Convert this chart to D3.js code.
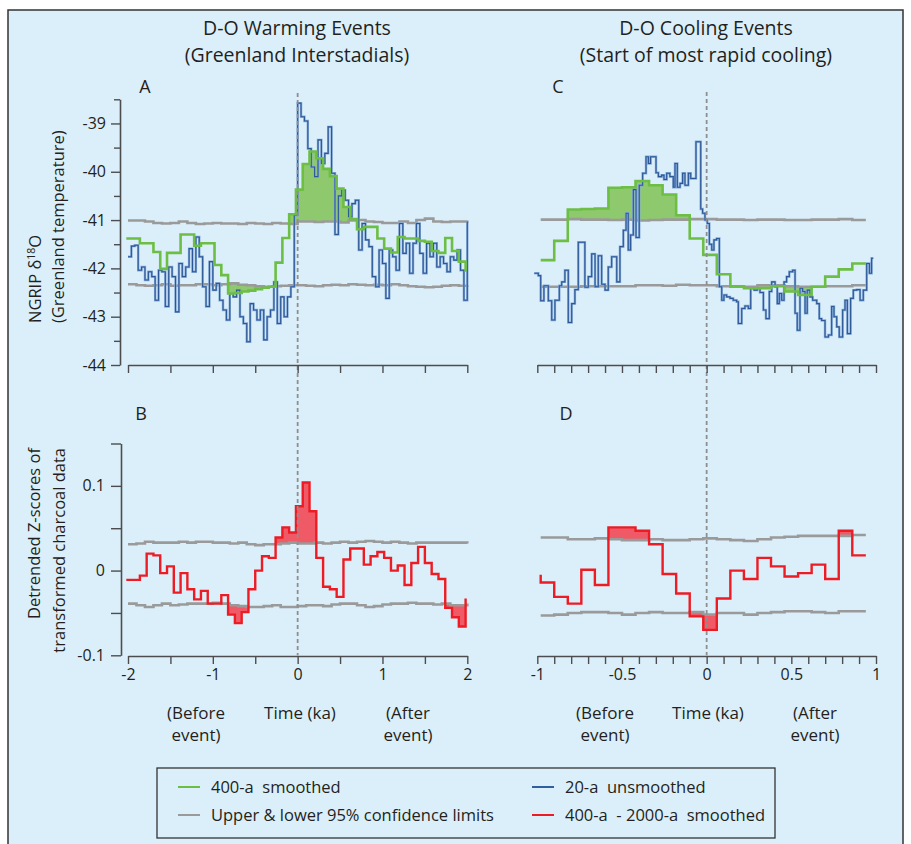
<!DOCTYPE html>
<html><head><meta charset="utf-8">
<script src="https://cdn.jsdelivr.net/npm/d3@7"></script>
<style>
html,body{margin:0;padding:0;background:#fff;}
svg text{font-family:"Open Sans","Noto Sans",sans-serif;fill:#231f20;}
</style></head><body>
<svg id="chart" width="911" height="844"></svg>
<script>
// ---------------- DATA ----------------
// Panel A / C : NGRIP d18O ; Panel B / D : charcoal z-scores
const greenA_start = -2.02, greenA_step = 0.08;
const greenA = [-41.38,-41.38,-41.48,-41.48,-41.66,-42.01,-41.68,-41.68,-41.30,-41.30,
  -41.53,-41.48,-41.48,-41.93,-42.14,-42.52,-42.51,-42.48,-42.46,-42.43,
  -42.40,-42.38,-41.88,-41.37,-40.88,-40.37,-39.84,-39.58,-39.72,-39.94,
  -40.09,-40.35,-40.73,-40.98,-41.19,-41.14,-41.14,-41.38,-41.59,-41.67,
  -41.35,-41.38,-41.38,-41.43,-41.45,-41.64,-41.68,-41.37,-41.64,-41.86];
const greenA_end = -42.07;

const blueA_start = -2.0, blueA_step = 0.04;
const blueA = [-41.76,-41.54,-41.52,-42.04,-41.97,-42.24,-42.07,-42.17,-42.66,-42.04,
  -42.07,-42.79,-41.97,-42.17,-42.90,-41.90,-42.17,-41.97,-41.59,-42.07,
  -41.35,-41.76,-42.38,-42.79,-41.86,-42.45,-42.31,-42.66,-42.86,-43.07,
  -42.52,-42.59,-42.45,-43.00,-43.14,-43.52,-42.73,-42.86,-43.07,-42.86,
  -43.48,-43.00,-42.86,-42.28,-43.14,-42.59,-43.00,-42.59,-42.38,-40.90,
  -38.58,-38.86,-38.95,-39.52,-39.90,-40.10,-39.34,-39.83,-39.62,-39.07,
  -40.03,-41.30,-40.50,-40.38,-40.59,-40.93,-40.66,-40.59,-41.62,-41.07,
  -41.41,-41.55,-42.17,-42.38,-41.62,-41.90,-42.62,-41.62,-41.76,-42.04,
  -41.07,-41.69,-41.48,-42.10,-41.48,-41.07,-41.69,-42.10,-41.48,-41.76,
  -41.48,-41.97,-41.76,-41.90,-42.07,-41.76,-41.83,-41.62,-42.04,-42.66];
const blueA_end = -41.03;

const greyAB_start = -2.0, greyAB_step = 0.1;
const greyA_upper = [-41.01,-41.01,-41.03,-41.06,-41.07,-41.06,-41.03,-41.06,-41.08,-41.07,
  -41.06,-41.07,-41.07,-41.08,-41.06,-41.07,-41.08,-41.06,-41.07,-41.08,
  -41.03,-41.03,-41.04,-41.03,-41.03,-41.05,-41.01,-41.00,-41.03,-41.04,
  -41.06,-41.06,-41.03,-41.06,-41.00,-40.97,-41.03,-41.04,-41.03,-41.03,-41.01];
const greyA_lower = [-42.33,-42.35,-42.36,-42.35,-42.33,-42.36,-42.35,-42.35,-42.33,-42.33,
  -42.35,-42.33,-42.31,-42.34,-42.35,-42.37,-42.38,-42.37,-42.36,-42.35,
  -42.35,-42.36,-42.37,-42.35,-42.34,-42.35,-42.33,-42.34,-42.35,-42.34,
  -42.35,-42.33,-42.35,-42.37,-42.38,-42.39,-42.38,-42.36,-42.35,-42.36,-42.35];

const redB_start = -2.02, redB_step = 0.08;
const redB = [-0.011,-0.011,-0.006,0.020,0.018,-0.003,0.005,-0.026,-0.003,-0.022,
  -0.034,-0.024,-0.039,-0.039,-0.029,-0.052,-0.062,-0.049,-0.022,0.0,
  0.017,0.015,0.039,0.051,0.045,0.076,0.104,0.070,0.015,-0.019,
  -0.022,-0.031,0.013,0.026,0.026,0.007,0.017,0.022,0.015,0.0,
  0.006,-0.017,0.009,0.028,0.009,-0.004,-0.010,-0.044,-0.055,-0.066];
const redB_end = -0.033;
const greyB_upper = [0.031,0.032,0.034,0.033,0.033,0.033,0.034,0.033,0.034,0.034,
  0.033,0.033,0.032,0.033,0.031,0.030,0.031,0.031,0.032,0.033,
  0.032,0.032,0.033,0.032,0.033,0.034,0.033,0.034,0.035,0.034,
  0.033,0.034,0.033,0.032,0.033,0.033,0.033,0.033,0.033,0.033,0.032];
const greyB_lower = [-0.039,-0.041,-0.043,-0.041,-0.039,-0.041,-0.040,-0.039,-0.039,-0.039,
  -0.038,-0.039,-0.041,-0.042,-0.043,-0.043,-0.042,-0.041,-0.043,-0.043,
  -0.042,-0.041,-0.041,-0.042,-0.040,-0.039,-0.039,-0.041,-0.043,-0.042,
  -0.040,-0.039,-0.039,-0.038,-0.039,-0.039,-0.040,-0.039,-0.041,-0.041,-0.039];

const CD_start = -0.98, CD_step = 0.08;
const greenC = [-41.83,-41.43,-40.78,-40.77,-40.76,-40.33,-40.32,-40.19,-40.28,-40.47,
  -40.90,-41.38,-41.72,-42.12,-42.37,-42.41,-42.41,-42.37,-42.48,-42.55,
  -42.38,-42.17,-42.02,-41.90];
const greyC_upper = [-40.99,-40.99,-40.98,-40.99,-40.99,-41.00,-40.99,-41.01,-41.00,-40.99,
  -40.99,-40.98,-40.98,-40.99,-40.99,-41.00,-40.99,-40.99,-41.00,-41.00,
  -40.99,-40.99,-40.98,-41.00,-41.00];
const greyC_lower = [-42.38,-42.38,-42.38,-42.37,-42.37,-42.37,-42.37,-42.35,-42.35,-42.36,
  -42.34,-42.35,-42.35,-42.37,-42.38,-42.38,-42.35,-42.35,-42.37,-42.38,
  -42.38,-42.37,-42.37,-42.35,-42.35];
const blueC_time = [-1.018,-0.994,-0.980,-0.961,-0.935,-0.915,-0.896,-0.870,-0.856,-0.837,
  -0.817,-0.797,-0.778,-0.758,-0.719,-0.699,-0.679,-0.659,-0.640,-0.620,
  -0.600,-0.581,-0.561,-0.531,-0.512,-0.492,-0.476,-0.463,-0.449,-0.433,
  -0.417,-0.398,-0.378,-0.358,-0.344,-0.331,-0.315,-0.299,-0.285,-0.266,
  -0.252,-0.236,-0.217,-0.197,-0.187,-0.173,-0.157,-0.142,-0.128,-0.108,
  -0.094,-0.063,-0.035,-0.024,-0.010,0.004,0.016,0.030,0.043,0.059,
  0.075,0.089,0.102,0.118,0.138,0.157,0.177,0.187,0.207,0.226,
  0.246,0.260,0.280,0.299,0.315,0.335,0.350,0.370,0.384,0.404,
  0.417,0.429,0.443,0.457,0.472,0.488,0.508,0.522,0.535,0.551,
  0.567,0.581,0.594,0.610,0.626,0.650,0.665,0.679,0.699,0.719,
  0.738,0.752,0.768,0.783,0.803,0.817,0.831,0.850,0.866,0.886,
  0.906,0.925,0.945,0.961,0.974];
const blueC_value = [-42.10,-42.15,-42.67,-42.36,-42.67,-43.07,-42.66,-42.36,-42.28,-42.04,
  -43.12,-42.73,-42.44,-41.46,-42.39,-42.17,-41.70,-42.38,-41.74,-42.33,
  -42.45,-41.97,-41.76,-42.28,-41.55,-41.21,-40.86,-41.62,-41.31,-40.37,
  -41.36,-40.28,-40.03,-39.69,-39.83,-39.69,-39.69,-40.02,-40.10,-40.07,
  -40.16,-40.03,-40.10,-40.32,-39.83,-40.32,-40.24,-40.03,-40.28,-40.03,
  -40.14,-39.38,-40.77,-40.86,-41.00,-41.07,-41.50,-41.62,-41.41,-41.38,
  -42.38,-42.66,-42.55,-42.59,-42.62,-42.66,-42.69,-43.14,-42.83,-42.78,
  -42.83,-42.41,-42.45,-42.41,-42.50,-42.86,-43.04,-42.48,-42.28,-42.38,
  -42.73,-42.52,-42.66,-42.28,-42.17,-42.07,-42.04,-42.93,-43.28,-42.41,
  -42.48,-42.93,-42.45,-42.59,-42.66,-42.73,-43.04,-43.08,-43.42,-43.38,
  -42.79,-43.00,-43.21,-43.42,-42.86,-42.66,-43.35,-42.62,-42.45,-42.44,
  -42.66,-42.45,-41.90,-42.10,-41.79];
const blueC_endTime = 0.984;

const redD_first = -0.005;
const redD = [-0.014,-0.031,-0.039,0.001,-0.017,0.051,0.051,0.047,0.031,-0.004,
  -0.027,-0.054,-0.070,-0.033,0.0,-0.010,0.015,0.005,-0.007,-0.003,
  0.007,-0.010,0.047,0.018];
const greyD_upper = [0.039,0.039,0.037,0.037,0.038,0.037,0.036,0.036,0.037,0.036,
  0.036,0.037,0.038,0.037,0.036,0.035,0.037,0.039,0.040,0.041,
  0.041,0.041,0.041,0.042,0.042];
const greyD_lower = [-0.053,-0.052,-0.050,-0.049,-0.049,-0.050,-0.052,-0.050,-0.049,-0.050,
  -0.050,-0.049,-0.052,-0.050,-0.050,-0.052,-0.050,-0.049,-0.048,-0.048,
  -0.049,-0.050,-0.048,-0.048,-0.048];

const yTicksTop = [-44,-43,-42,-41,-40,-39];
const yTicksBot = [-0.1,0,0.1];
const xLabelsB = [-2,-1,0,1,2];
const xLabelsD = [-1,-0.5,0,0.5,1];
const legendItems = [
  {label:"400-a  smoothed", color:"#6dbe45", col:0, row:0},
  {label:"20-a  unsmoothed", color:"#2f5f9f", col:1, row:0},
  {label:"Upper & lower 95% confidence limits", color:"#9a9a9a", col:0, row:1},
  {label:"400-a  - 2000-a  smoothed", color:"#ed1c24", col:1, row:1}
];

// ---------------- HELPERS ----------------
function uniformSeries(start, step, values, endValue){
  const pts = values.map((v,i)=>[start + i*step, v]);
  pts.push([start + values.length*step, endValue === undefined ? values[values.length-1] : endValue]);
  return pts;
}
function gridSeries(start, step, values){ // last value marks end point
  return values.map((v,i)=>[start + i*step, v]);
}
function timedSeries(times, values, endT){
  const pts = times.map((t,i)=>[t, values[i]]);
  pts.push([endT, values[values.length-1]]);
  return pts;
}
function valueAt(pts, t){
  let lo = 0, hi = pts.length-2;
  if (t < pts[0][0]) return null;
  while (lo < hi){ const mid = (lo+hi+1)>>1; if (pts[mid][0] <= t) lo = mid; else hi = mid-1; }
  return pts[lo][1];
}

const COL = {bg:"#dbeffa", axis:"#4d4d4f", grey:"#9a9a9a", green:"#6dbe45", greenFill:"#8ec96d",
  blue:"#2b5796", blueHalo:"#86aad8", red:"#ed1c24", redFill:"#ef5a66", dash:"#8e8e8e"};

const svg = d3.select("#chart");
svg.append("rect").attr("x",8).attr("y",10).attr("width",895).attr("height",850)
  .attr("fill",COL.bg).attr("stroke","#333").attr("stroke-width",1.5);

// scales
const xA = d3.scaleLinear().domain([-2,2]).range([128,467.3]);
const xC = d3.scaleLinear().domain([-1,1]).range([537.3,876]);
const yTop = d3.scaleLinear().domain([-44,-38.5]).range([365,99.3]);
const yBot = d3.scaleLinear().domain([-0.1,0.15]).range([655.3,443.5]);

function stepLine(g, pts, x, y, color, width){
  return g.append("path").datum(pts)
    .attr("d", d3.line().x(d=>x(d[0])).y(d=>y(d[1])).curve(d3.curveStepAfter))
    .attr("fill","none").attr("stroke",color).attr("stroke-width",width).attr("stroke-linejoin","miter");
}
function blueLine(g, pts, x, y){
  stepLine(g, pts, x, y, COL.blueHalo, 2.4);
  stepLine(g, pts, x, y, COL.blue, 1.1);
}
function exceedArea(g, series, limit, dir, x, y, color){
  const t0 = Math.max(series[0][0], limit[0][0]);
  const t1 = Math.min(series[series.length-1][0], limit[limit.length-1][0]);
  const ts = d3.range(t0, t1, 0.001);
  const data = ts.map(t=>{
    const v = valueAt(series,t), l = valueAt(limit,t);
    return {t, l, v: dir>0 ? Math.max(v,l) : Math.min(v,l)};
  });
  g.append("path").datum(data)
    .attr("d", d3.area().x(d=>x(d.t)).y0(d=>y(d.l)).y1(d=>y(d.v)).curve(d3.curveStepAfter))
    .attr("fill",color).attr("stroke","none");
}

// build series
const sGreenA = uniformSeries(greenA_start, greenA_step, greenA, greenA_end);
const sBlueA = uniformSeries(blueA_start, blueA_step, blueA, blueA_end);
const sGAu = gridSeries(greyAB_start, greyAB_step, greyA_upper);
const sGAl = gridSeries(greyAB_start, greyAB_step, greyA_lower);
const sRedB = uniformSeries(redB_start, redB_step, redB, redB_end);
const sGBu = gridSeries(greyAB_start, greyAB_step, greyB_upper);
const sGBl = gridSeries(greyAB_start, greyAB_step, greyB_lower);
const sGreenC = uniformSeries(CD_start, CD_step, greenC);
const sBlueC = timedSeries(blueC_time, blueC_value, blueC_endTime);
const sGCu = gridSeries(CD_start, CD_step, greyC_upper);
const sGCl = gridSeries(CD_start, CD_step, greyC_lower);
const sRedD = [[CD_start, redD_first]].concat(uniformSeries(CD_start, CD_step, redD));
const sGDu = gridSeries(CD_start, CD_step, greyD_upper);
const sGDl = gridSeries(CD_start, CD_step, greyD_lower);

const plot = svg.append("g");

// Panel A
exceedArea(plot, sGreenA, sGAu, 1, xA, yTop, COL.greenFill);
exceedArea(plot, sGreenA, sGAl, -1, xA, yTop, COL.greenFill);
stepLine(plot, sGAu, xA, yTop, COL.grey, 2.6);
stepLine(plot, sGAl, xA, yTop, COL.grey, 2.6);
blueLine(plot, sBlueA, xA, yTop);
stepLine(plot, sGreenA, xA, yTop, COL.green, 2.6);
// Panel C
exceedArea(plot, sGreenC, sGCu, 1, xC, yTop, COL.greenFill);
exceedArea(plot, sGreenC, sGCl, -1, xC, yTop, COL.greenFill);
stepLine(plot, sGCu, xC, yTop, COL.grey, 2.6);
stepLine(plot, sGCl, xC, yTop, COL.grey, 2.6);
blueLine(plot, sBlueC, xC, yTop);
stepLine(plot, sGreenC, xC, yTop, COL.green, 2.6);
// Panel B
exceedArea(plot, sRedB, sGBu, 1, xA, yBot, COL.redFill);
exceedArea(plot, sRedB, sGBl, -1, xA, yBot, COL.redFill);
stepLine(plot, sGBu, xA, yBot, COL.grey, 2.6);
stepLine(plot, sGBl, xA, yBot, COL.grey, 2.6);
stepLine(plot, sRedB, xA, yBot, COL.red, 2.4);
// Panel D
exceedArea(plot, sRedD.slice(1), sGDu, 1, xC, yBot, COL.redFill);
exceedArea(plot, sRedD.slice(1), sGDl, -1, xC, yBot, COL.redFill);
stepLine(plot, sGDu, xC, yBot, COL.grey, 2.6);
stepLine(plot, sGDl, xC, yBot, COL.grey, 2.6);
stepLine(plot, sRedD, xC, yBot, COL.red, 2.4);

// dashed event lines
[[xA,93],[xC,92]].forEach(([x,top])=>{
  svg.append("line").attr("x1",x(0)).attr("x2",x(0)).attr("y1",top).attr("y2",yBot(-0.1))
    .attr("stroke",COL.dash).attr("stroke-width",1.8).attr("stroke-dasharray","4,3");
});

// axes
function styleAxis(g){
  g.selectAll(".domain").attr("stroke",COL.axis).attr("stroke-width",1.6);
  g.selectAll(".tick line").attr("stroke",COL.axis).attr("stroke-width",1.4);
  g.selectAll(".tick text").attr("font-size",16).attr("fill","#231f20")
    .style("font-family","'Open Sans','Noto Sans',sans-serif");
}
const fmt = d => String(d);
// y axis top
const gyA = svg.append("g").attr("transform","translate(120,0)")
  .call(d3.axisLeft(yTop).tickValues(d3.range(-44,-38.49,0.5)).tickSize(9).tickSizeOuter(0).tickPadding(5)
    .tickFormat(d=> yTicksTop.includes(d) ? fmt(d) : ""));
styleAxis(gyA);
gyA.selectAll(".tick").filter(d=>!yTicksTop.includes(d)).select("line").attr("x2",-6);
// y axis bottom
const botTicks = [-0.1,-0.05,0,0.05,0.1,0.15];
const gyB = svg.append("g").attr("transform","translate(121,0)")
  .call(d3.axisLeft(yBot).tickValues(botTicks).tickSize(10).tickSizeOuter(0).tickPadding(6)
    .tickFormat(d=> yTicksBot.some(v=>Math.abs(v-d)<1e-9) ? fmt(d) : ""));
styleAxis(gyB);
// x axes
function xAxis(x, y, ticks, labels){
  const g = svg.append("g").attr("transform",`translate(0,${y})`)
    .call(d3.axisBottom(x).tickValues(ticks).tickSize(8).tickSizeOuter(0).tickPadding(5)
      .tickFormat(d=> labels && labels.some(v=>Math.abs(v-d)<1e-9) ? fmt(+d.toFixed(2)) : ""));
  styleAxis(g);
  return g;
}
const ticksAB = d3.range(-2,2.001,0.5);
const ticksCD = d3.range(0,21).map(i=>-1+i*0.1);
xAxis(xA, 365, ticksAB, null);
xAxis(xC, 365, ticksCD, null);
xAxis(xA, 656, ticksAB, xLabelsB);
xAxis(xC, 656, ticksCD, xLabelsD);

// titles
function txt(x,y,s,size,anchor){
  return svg.append("text").attr("x",x).attr("y",y).attr("font-size",size)
    .attr("text-anchor",anchor||"middle").text(s);
}
txt(297,35,"D-O Warming Events",19.5);
txt(297,62,"(Greenland Interstadials)",19.5);
txt(706,35,"D-O Cooling Events",19.5);
txt(706,62,"(Start of most rapid cooling)",19.5);
txt(145,93,"A",18);
txt(558,93,"C",18);
txt(141,420,"B",18);
txt(566,420,"D",18);

// y axis titles
function vtxt(x,y,size,anchor){
  return svg.append("text").attr("transform",`translate(${x},${y}) rotate(-90)`)
    .attr("font-size",size).attr("text-anchor",anchor).attr("dy","0.35em");
}
const t1 = vtxt(35,323,16.5,"start");
t1.append("tspan").text("NGRIP δ");
t1.append("tspan").attr("font-size",10.5).attr("dy",-6).text("18");
t1.append("tspan").attr("dy",6).text("O");
vtxt(58,323,16.5,"start").text("(Greenland temperature)");
vtxt(34,448,16.5,"end").text("Detrended Z-scores of");
vtxt(59,448,16.5,"end").text("transformed charcoal data");

// time labels
[[196,"(Before","event)"],[408,"(After","event)"],[605,"(Before","event)"],[815,"(After","event)"]]
  .forEach(([x,a,b])=>{ txt(x,719,a,17); txt(x,741,b,17); });
txt(300,719,"Time (ka)",17);
txt(708,719,"Time (ka)",17);

// legend
const lg = svg.append("g");
lg.append("rect").attr("x",157).attr("y",768).attr("width",618).attr("height",70)
  .attr("fill","none").attr("stroke","#333").attr("stroke-width",1.3);
legendItems.forEach(d=>{
  const x0 = d.col===0 ? 178 : 532, y0 = d.row===0 ? 787 : 815;
  lg.append("line").attr("x1",x0).attr("x2",x0+22).attr("y1",y0).attr("y2",y0)
    .attr("stroke",d.color).attr("stroke-width",2);
  lg.append("text").attr("x",x0+33).attr("y",y0+5.5).attr("font-size",16.5)
    .style("white-space","pre").text(d.label);
});
</script>
</body></html>
